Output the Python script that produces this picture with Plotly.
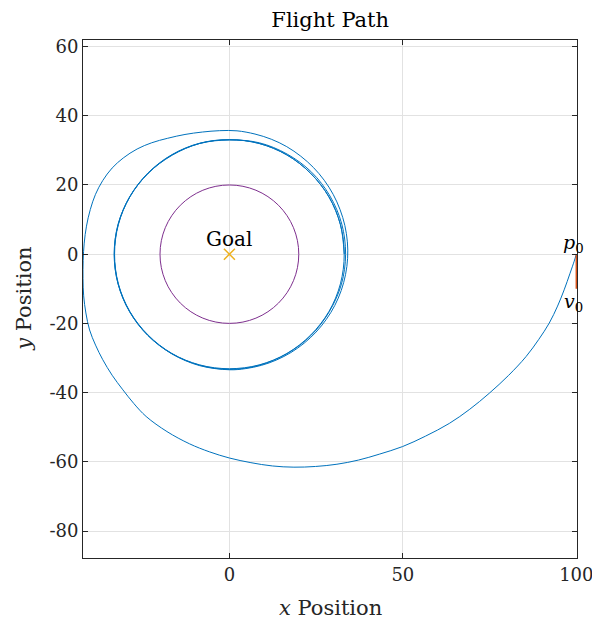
import plotly.graph_objects as go

# Flight path points (x, y)
path_points = [
    # start and first wide turn
    (100, 0), (99.4, -2.0), (98.2, -5.5), (96.5, -10.3), (94.6, -15.0), (92.2, -19.9),
    (89.2, -24.6), (85.5, -29.6), (80.5, -35.0), (74.9, -40.2), (69.3, -44.8), (63.4, -48.9),
    (56.5, -52.6), (49.9, -55.6), (43.2, -57.8), (37.2, -59.5), (31.0, -60.7), (24.8, -61.35),
    (18.6, -61.55), (12.4, -61.2), (6.2, -60.25), (0.0, -58.9), (-5.8, -57.1), (-11.5, -54.8),
    (-18.0, -51.26), (-24.0, -46.9), (-27.52, -43.19), (-30.7, -39.2), (-33.8, -34.98),
    (-36.5, -30.5), (-38.58, -26.28), (-40.3, -21.9), (-41.37, -16.99), (-42.01, -12.03),
    (-42.2, -7.0), (-42.15, -1.8), (-41.85, 3.2), (-41.2, 8.1), (-40.1, 12.9), (-38.6, 17.3),
    (-36.5, 21.3), (-33.8, 24.9), (-30.6, 27.8), (-26.6, 30.4), (-22.4, 32.2), (-17.8, 33.5),
    (-12.8, 34.6), (-7.8, 35.3), (-2.8, 35.7),
    # tightening onto the loiter circle
    (2.2, 35.65), (7.38, 34.72), (12.09, 33.22), (16.53, 31.08), (20.57, 28.32),
    (24.21, 25.07), (27.34, 21.36), (29.92, 17.28), (31.9, 12.89), (33.28, 8.30),
    (34.01, 3.57), (34.08, -1.19), (33.48, -5.90), (32.24, -10.48), (30.38, -14.82),
    (27.94, -18.84), (24.98, -22.50), (21.57, -25.70), (17.75, -28.41), (13.61, -30.56),
    (9.21, -32.13), (4.65, -33.07), (0.0, -33.4),
    # loiter circle
    (-8.6, -32.2), (-16.6, -28.8),
    (-23.5, -23.5), (-28.8, -16.6), (-32.1, -8.6), (-33.2, 0.0), (-32.1, 8.6), (-28.7, 16.6),
    (-23.4, 23.4), (-16.5, 28.6), (-8.55, 32.0), (0.0, 33.0), (8.6, 32.2), (16.7, 28.9),
    (23.7, 23.7), (29.0, 16.8), (32.4, 8.7), (33.5, 0.0), (32.3, -8.65), (28.8, -16.6),
    (23.5, -23.5), (16.6, -28.75), (8.6, -32.1), (0.0, -33.3), (-8.59, -32.07),
    (-16.6, -28.75), (-23.48, -23.48), (-28.75, -16.6), (-32.07, -8.59), (-33.2, 0.0),
    (-32.07, 8.59), (-28.75, 16.6), (-23.48, 23.48), (-16.6, 28.75), (-8.59, 32.07),
    (0.0, 33.1), (8.57, 32.0), (16.55, 28.7), (23.4, 23.4), (28.7, 16.55), (32.0, 8.57),
    (33.1, 0.0), (32.0, -8.57), (28.7, -16.55), (23.4, -23.4), (16.55, -28.7), (8.57, -32.0),
    (0.0, -33.1), (-8.57, -32.0), (-16.55, -28.7), (-23.4, -23.4), (-28.7, -16.55),
    (-32.0, -8.57), (-33.1, 0.0), (-32.0, 8.57), (-28.7, 16.55), (-23.4, 23.4),
    (-16.55, 28.7), (-8.57, 32.0), (0.0, 33.1), (8.57, 32.0), (16.55, 28.7), (23.4, 23.4),
    (28.7, 16.55), (32.0, 8.57), (33.1, 0.0),
]
path_x = [p[0] for p in path_points]
path_y = [p[1] for p in path_points]

# Initial state
p0 = (100, 0)
v0_end = (100, -10)

# Goal
goal = (0, 0)
goal_radius = 20

x_range = [-42.2, 100.2]
y_range = [-87.8, 61.9]
x_tickvals = [0, 50, 100]
x_ticktext = ["0", "50", "100"]
y_tickvals = [-80, -60, -40, -20, 0, 20, 40, 60]
y_ticktext = ["-80", "-60", "-40", "-20", "0", "20", "40", "60"]

FONT = "DejaVu Serif"
TXT = "#262626"

fig = go.Figure()

fig.add_shape(type="circle", xref="x", yref="y",
              x0=goal[0] - goal_radius, x1=goal[0] + goal_radius,
              y0=goal[1] - goal_radius, y1=goal[1] + goal_radius,
              line=dict(color="#7E2F8E", width=1))

fig.add_trace(go.Scatter(x=path_x, y=path_y, mode="lines",
                         line=dict(color="#0072BD", width=1, shape="spline", smoothing=1.0),
                         showlegend=False))

fig.add_trace(go.Scatter(x=[p0[0], v0_end[0]], y=[p0[1], v0_end[1]], mode="lines",
                         line=dict(color="#D95319", width=1.5), showlegend=False))

fig.add_trace(go.Scatter(x=[goal[0]], y=[goal[1]], mode="markers",
                         marker=dict(symbol="x-thin", size=11, color="#EDB120",
                                     line=dict(color="#EDB120", width=1.5)),
                         showlegend=False))

fig.add_annotation(x=goal[0], y=goal[1], text="Goal", showarrow=False, yshift=15,
                   font=dict(family=FONT, size=20, color="black"))
fig.add_annotation(x=p0[0], y=p0[1], text="<i>p</i><sub>0</sub>", showarrow=False,
                   yshift=11, xshift=-3, font=dict(family=FONT, size=19, color="black"))
fig.add_annotation(x=v0_end[0], y=v0_end[1], text="<i>v</i><sub>0</sub>", showarrow=False,
                   yshift=-14, xshift=-3, font=dict(family=FONT, size=19, color="black"))

# Axis titles
fig.add_annotation(xref="paper", yref="paper", x=0.5, y=-0.097, text="<i>x</i> Position",
                   showarrow=False, xanchor="center", yanchor="middle",
                   font=dict(family=FONT, size=21, color=TXT))
fig.add_annotation(xref="paper", yref="paper", x=-0.12, y=0.5, text="<i>y</i> Position",
                   showarrow=False, xanchor="center", yanchor="middle", textangle=-90,
                   font=dict(family=FONT, size=21, color=TXT))

axis_common = dict(showgrid=True, gridcolor="#e2e2e2", gridwidth=1,
                   showline=True, linecolor=TXT, linewidth=1, mirror="ticks",
                   ticks="inside", ticklen=5, tickcolor=TXT, zeroline=False,
                   automargin=False,
                   tickfont=dict(family=FONT, size=18, color=TXT))

fig.update_xaxes(range=x_range, tickvals=x_tickvals, ticktext=x_ticktext, **axis_common)
fig.update_yaxes(range=y_range, tickvals=y_tickvals, ticktext=y_ticktext, **axis_common)

# the page body adds an 8px offset; margins compensate for it
fig.update_layout(width=600, height=623,
                  margin=dict(l=75, r=31, t=32, b=73, autoexpand=False),
                  plot_bgcolor="white", paper_bgcolor="white",
                  title=dict(text="Flight Path", x=0.537, xanchor="center", y=0.981,
                             yanchor="middle", automargin=False,
                             font=dict(family=FONT, size=21, color="black")))

fig.write_html("out.html")
